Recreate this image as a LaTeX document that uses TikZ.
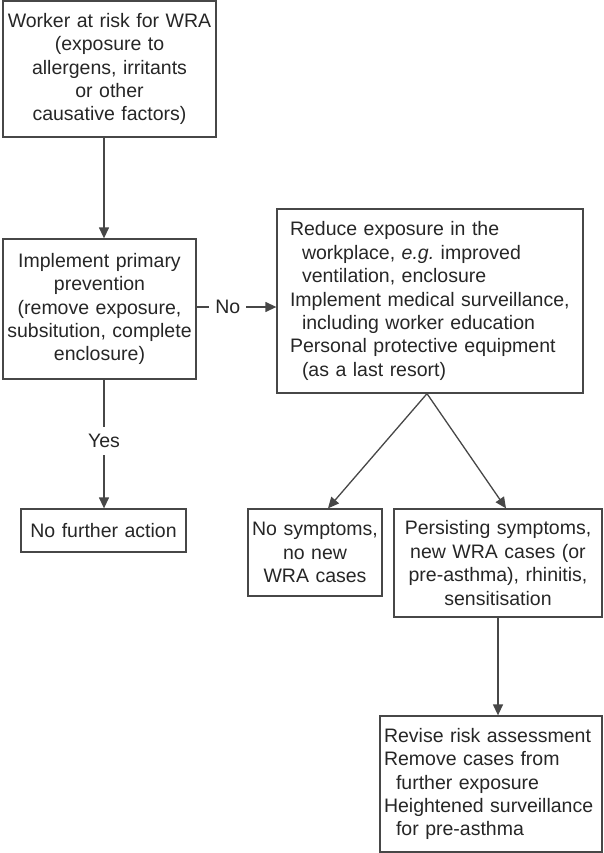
\documentclass[tikz,border=0pt]{standalone}
\usepackage{fontspec}
\setmainfont{Liberation Sans}
\usepackage{tikz}
\usetikzlibrary{positioning, arrows.meta, calc}
\definecolor{linegray}{HTML}{474747}
\definecolor{textgray}{HTML}{262626}
\newcommand{\hang}{\hspace*{12pt}}

\begin{document}
\begin{tikzpicture}[x=1pt, y=-1pt,
    box/.style={draw=linegray, line width=1.3pt, text=textgray, align=center,
        inner xsep=3pt, font=\fontsize{19.5}{23.4}\selectfont},
    arr/.style={draw=linegray, line width=1.3pt, -{Triangle[length=11pt, width=10pt]}},
    lbl/.style={fill=white, text=textgray, font=\fontsize{19.5}{23.4}\selectfont}]
    \useasboundingbox (0,0) rectangle (603,853);
    \node[box, text width=207pt, minimum height=136pt] (work) at (109.5,69)
        {Worker at risk for WRA\\(exposure to\\allergens, irritants\\or other\\causative factors)};
    \node[box, text width=187pt, minimum height=140pt] (prim) at (99.5,309)
        {Implement primary\\prevention\\(remove exposure,\\subsitution, complete\\enclosure)};
    \node[box, text width=159pt, minimum height=43pt] (nofur) at (103.5,530.5)
        {No further action};
    \node[box, align=left, inner xsep=13pt, text width=280pt, minimum height=184pt] (reduce) at (430,301)
        {Reduce exposure in the\\\hang workplace, \textit{e.g.}\ improved\\\hang ventilation, enclosure\\Implement medical surveillance,\\\hang including worker education\\Personal protective equipment\\\hang (as a last resort)};
    \node[box, text width=128pt, minimum height=87pt] (nosym) at (315,552.5)
        {No symptoms,\\no new\\WRA cases};
    \node[box, text width=202pt, minimum height=108pt] (persist) at (498,563)
        {Persisting symptoms,\\new WRA cases (or\\pre-asthma), rhinitis,\\sensitisation};
    \node[box, align=left, inner xsep=4pt, text width=214pt, minimum height=136pt] (revise) at (491,784)
        {Revise risk assessment\\Remove cases from\\\hang further exposure\\Heightened surveillance\\\hang for pre-asthma};
    % connectors
    \draw[arr] ([xshift=-5.5pt]work.south) -- ([xshift=-5.5pt]work.south |- prim.north);
    \draw[arr] ([xshift=4.5pt]prim.south) -- node[lbl, inner ysep=7pt, yshift=3pt] {Yes} ([xshift=4.5pt]prim.south |- nofur.north);
    \draw[arr] ([yshift=2pt]prim.east) -- node[lbl, pos=0.39, inner xsep=6pt] {No} ([yshift=2pt]prim.east -| reduce.west);
    \draw[arr] ([xshift=-3pt]reduce.south) -- ([xshift=13pt]nosym.north);
    \draw[arr] ([xshift=-3pt]reduce.south) -- ([xshift=8pt]persist.north);
    \draw[arr] (persist.south) -- (persist.south |- revise.north);
\end{tikzpicture}
\end{document}
